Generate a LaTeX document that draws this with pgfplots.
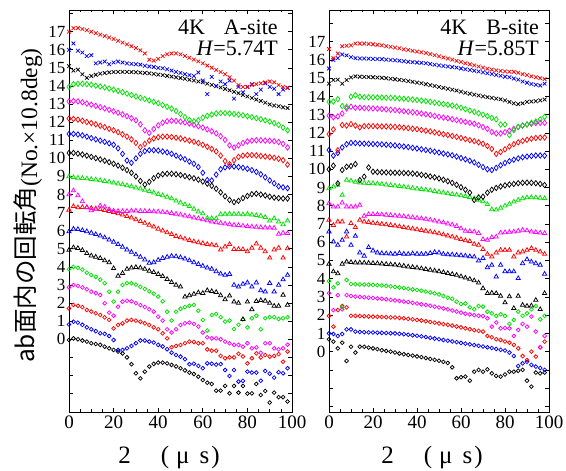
\documentclass[border=0pt]{standalone}
\usepackage{fontspec}
\setmainfont{Liberation Serif}
\newfontfamily\cjk{Noto Sans CJK JP}
\usepackage{pgfplots}
\pgfplotsset{compat=1.18}
\definecolor{mgreen}{RGB}{0,225,0}
\definecolor{mred}{RGB}{255,0,0}
\definecolor{mblue}{RGB}{0,0,255}
\definecolor{mmag}{RGB}{255,0,255}
\pgfplotsset{
 panel/.style={scale only axis, width=223bp, height=402bp, xmin=0, xmax=100,
  xtick={0,20,...,100}, minor x tick num=3,
  ytick={-3,...,18}, yticklabels={,,,0,1,2,3,4,5,6,7,8,9,10,11,12,13,14,15,16,17,},
  clip=false, axis line style={line width=0.8bp},
  every tick/.style={line width=0.7bp,black}, major tick length=4bp, minor tick length=2.5bp,
  /pgf/number format/assume math mode=true,
  yticklabel style={font=\fontsize{17bp}{18bp}\selectfont},
  xticklabel style={font=\fontsize{19bp}{20bp}\selectfont}},
 sc/.style={only marks, mark=o, mark size=1.9bp, color=#1, mark options={solid, line width=0.75bp}},
 st/.style={only marks, mark=triangle, mark size=2.5bp, color=#1, mark options={solid, line width=0.75bp}},
 sd/.style={only marks, mark=diamond, mark size=2.7bp, color=#1, mark options={solid, line width=0.75bp}},
 sx/.style={only marks, mark=x, mark size=2.6bp, color=#1, mark options={solid, line width=0.75bp}},
}
\begin{document}
\begin{tikzpicture}
\path[use as bounding box] (0,0) rectangle (566bp,471bp);
% ---------------- left panel ----------------
\begin{axis}[panel, at={(69bp,59bp)}, anchor=south west, ymin=-4.02, ymax=18.2]
\addplot[sc=black] coordinates {(0,-0.04)(2,0.05)(4,0.00)(6,-0.07)(8,-0.13)(10,-0.22)(12,-0.26)(14,-0.31)(16,-0.41)(18,-0.50)(20,-0.59)(22,-0.68)(24,-0.78)(26,-1.00)(28,-1.38)(30,-1.88)(32,-2.16)(34,-1.79)(36,-1.51)(38,-1.36)(40,-1.29)(42,-1.29)(44,-1.33)(46,-1.42)(48,-1.50)(50,-1.60)(52,-1.72)(54,-1.84)(56,-1.92)(58,-2.07)(60,-2.25)(62,-2.40)(64,-2.47)(66,-2.84)(68,-2.84)(70,-2.58)(72,-2.99)(74,-2.58)(76,-2.95)(78,-2.58)(80,-3.00)(82,-2.99)(84,-2.47)(86,-3.08)(88,-2.86)(90,-3.50)(92,-2.95)(94,-3.20)(96,-3.20)(98,-3.44)};
\addplot[sc=mblue] coordinates {(0,0.82)(2,0.97)(4,0.92)(6,0.80)(8,0.66)(10,0.55)(12,0.45)(14,0.33)(16,0.30)(18,0.18)(20,-0.04)(22,-0.59)(24,-0.59)(26,-0.50)(28,-0.37)(30,-0.22)(32,-0.07)(34,-0.07)(36,-0.13)(38,-0.18)(40,-0.31)(42,-0.40)(44,-0.55)(46,-0.74)(48,-0.87)(50,-0.96)(52,-1.10)(54,-1.38)(56,-1.35)(58,-1.47)(60,-1.60)(62,-1.33)(64,-1.35)(66,-1.40)(68,-1.37)(70,-1.70)(72,-2.03)(74,-1.70)(76,-2.34)(78,-2.30)(80,-1.79)(82,-1.84)(84,-1.84)(86,-2.29)(88,-1.75)(90,-1.90)(92,-2.12)(94,-1.82)(96,-1.88)(98,-1.60)};
\addplot[sc=mred] coordinates {(0,1.71)(2,1.90)(4,1.85)(6,1.78)(8,1.62)(10,1.53)(12,1.44)(14,1.34)(16,1.21)(18,1.07)(20,0.60)(22,0.79)(24,0.88)(26,1.03)(28,1.07)(30,1.03)(32,0.97)(34,0.88)(36,0.79)(38,0.66)(40,0.55)(42,0.33)(44,0.05)(46,-0.44)(48,-0.37)(50,-0.32)(52,-0.22)(54,-0.13)(56,-0.15)(58,-0.22)(60,-0.22)(62,-0.56)(64,-0.63)(66,-0.63)(68,-0.92)(70,-1.05)(72,-1.00)(74,-1.00)(76,-0.80)(78,-0.95)(80,-1.33)(82,-1.05)(84,-0.78)(86,-1.00)(88,-0.87)(90,-0.96)(92,-0.92)(94,-0.82)(96,-1.24)(98,-0.68)};
\addplot[sc=mmag] coordinates {(0,2.87)(2,3.00)(4,2.95)(6,2.87)(8,2.76)(10,2.63)(12,2.55)(14,2.45)(16,1.99)(18,1.47)(20,1.30)(22,1.80)(24,2.08)(26,2.13)(28,2.10)(30,2.00)(32,1.89)(34,1.78)(36,1.66)(38,1.53)(40,1.25)(42,1.03)(44,0.55)(46,0.37)(48,0.55)(50,0.79)(52,0.88)(54,0.92)(56,0.85)(58,0.70)(60,0.37)(62,0.11)(64,0.05)(66,0.05)(68,0.00)(70,-0.13)(72,-0.22)(74,-0.31)(76,-0.31)(78,-0.41)(80,-0.22)(82,-0.50)(84,-0.45)(86,-0.75)(88,-0.22)(90,-0.22)(92,-0.50)(94,-0.56)(96,-0.50)(98,-0.30)};
\addplot[sc=mgreen] coordinates {(0,3.87)(2,4.00)(4,3.95)(6,3.85)(8,3.68)(10,3.55)(12,3.45)(14,3.30)(16,3.10)(18,2.63)(20,2.08)(22,2.63)(24,3.00)(26,3.10)(28,3.10)(30,3.02)(32,2.90)(34,2.78)(36,2.65)(38,2.52)(40,2.36)(42,2.10)(44,1.52)(46,1.03)(48,1.52)(50,1.68)(52,1.78)(54,1.85)(56,1.90)(58,1.58)(60,1.07)(62,0.48)(64,1.34)(66,1.40)(68,1.22)(70,0.98)(72,1.03)(74,0.57)(76,0.80)(78,1.10)(80,0.66)(82,1.16)(84,1.30)(86,0.55)(88,1.16)(90,1.22)(92,1.22)(94,1.12)(96,1.16)(98,1.22)};
\addplot[st=black] coordinates {(0,4.93)(2,5.07)(4,5.03)(6,4.92)(8,4.75)(10,4.62)(12,4.55)(14,4.48)(16,4.35)(18,4.25)(20,3.92)(22,3.50)(24,3.65)(26,3.88)(28,3.95)(30,3.98)(32,3.95)(34,3.88)(36,3.78)(38,3.70)(40,3.60)(42,3.48)(44,3.32)(46,3.15)(48,3.00)(50,2.90)(52,2.35)(54,2.42)(56,2.50)(58,2.58)(60,2.55)(62,2.70)(64,2.65)(66,2.60)(68,2.42)(70,2.20)(72,2.40)(74,2.07)(76,2.00)(78,1.10)(80,2.07)(82,1.65)(84,2.10)(86,2.15)(88,2.12)(90,2.00)(92,1.84)(94,1.84)(96,2.45)(98,1.90)};
\addplot[st=mblue] coordinates {(0,5.95)(2,6.10)(4,6.08)(6,6.02)(8,5.96)(10,5.88)(12,5.80)(14,5.72)(16,5.62)(18,5.50)(20,5.38)(22,5.25)(24,5.10)(26,4.95)(28,4.82)(30,4.68)(32,4.55)(34,4.40)(36,4.22)(38,4.25)(40,4.38)(42,4.48)(44,4.55)(46,4.60)(48,4.58)(50,4.52)(52,4.45)(54,4.35)(56,4.25)(58,4.15)(60,4.05)(62,3.95)(64,3.88)(66,3.75)(68,3.62)(70,3.55)(72,3.60)(74,3.00)(76,2.90)(78,3.05)(80,3.13)(82,2.90)(84,3.13)(86,2.70)(88,2.63)(90,3.10)(92,2.63)(94,3.00)(96,3.30)(98,3.55)};
\addplot[st=mred] coordinates {(0,7.15)(2,7.35)(4,7.28)(6,7.30)(8,7.28)(10,7.25)(12,7.22)(14,7.18)(16,7.13)(18,7.08)(20,7.02)(22,6.95)(24,6.88)(26,6.80)(28,6.72)(30,6.62)(32,6.52)(34,6.42)(36,6.32)(38,6.22)(40,6.10)(42,6.00)(44,5.90)(46,5.80)(48,5.70)(50,5.62)(52,5.55)(54,5.47)(56,5.40)(58,5.35)(60,5.30)(62,5.25)(64,5.22)(66,5.18)(68,4.95)(70,5.12)(72,5.25)(74,4.98)(76,4.98)(78,4.97)(80,4.85)(82,5.05)(84,5.28)(86,5.05)(88,4.85)(90,4.50)(92,4.95)(94,5.05)(96,4.50)(98,5.02)};
\addplot[st=mmag] coordinates {(0,8.00)(2,8.22)(4,7.95)(6,7.62)(8,7.30)(10,7.12)(12,7.20)(14,7.38)(16,7.32)(18,7.18)(20,7.10)(22,7.08)(24,7.08)(26,7.08)(28,7.10)(30,7.10)(32,7.08)(34,7.08)(36,7.07)(38,7.06)(40,7.05)(42,7.03)(44,7.00)(46,6.97)(48,6.93)(50,6.88)(52,6.83)(54,6.78)(56,6.72)(58,6.68)(60,6.62)(62,6.56)(64,6.50)(66,6.46)(68,6.42)(70,6.38)(72,6.35)(74,6.32)(76,6.30)(78,6.27)(80,6.24)(82,6.22)(84,6.20)(86,6.18)(88,6.17)(90,6.16)(92,6.15)(94,5.82)(96,5.88)(98,5.86)};
\addplot[st=mgreen] coordinates {(0,9.00)(2,8.95)(4,8.92)(6,8.90)(8,8.88)(10,8.85)(12,8.82)(14,8.78)(16,8.74)(18,8.70)(20,8.65)(22,8.60)(24,8.55)(26,8.50)(28,8.45)(30,8.38)(32,8.32)(34,8.25)(36,8.18)(38,8.10)(40,8.02)(42,7.95)(44,7.87)(46,7.78)(48,7.65)(50,7.55)(52,7.45)(54,7.35)(56,7.20)(58,7.05)(60,6.95)(62,6.70)(64,6.68)(66,6.68)(68,6.90)(70,6.92)(72,6.93)(74,6.92)(76,6.92)(78,6.90)(80,6.92)(82,6.88)(84,6.85)(86,6.82)(88,6.75)(90,6.55)(92,6.68)(94,6.50)(96,6.35)(98,6.55)};
\addplot[sd=black] coordinates {(0,10.30)(2,10.30)(4,10.26)(6,10.21)(8,10.15)(10,10.08)(12,10.01)(14,9.94)(16,9.87)(18,9.79)(20,9.70)(22,9.60)(24,9.48)(26,9.35)(28,9.20)(30,9.00)(32,8.75)(34,8.55)(36,8.70)(38,8.90)(40,9.05)(42,9.12)(44,9.15)(46,9.15)(48,9.12)(50,9.08)(52,9.02)(54,8.96)(56,8.90)(58,8.82)(60,8.72)(62,8.60)(64,8.48)(66,8.32)(68,8.12)(70,7.90)(72,7.70)(74,7.58)(76,7.65)(78,7.80)(80,7.92)(82,8.02)(84,8.05)(86,8.00)(88,7.95)(90,7.88)(92,7.83)(94,7.80)(96,7.78)(98,7.78)};
\addplot[sd=mblue] coordinates {(0,11.35)(2,11.35)(4,11.32)(6,11.27)(8,11.20)(10,11.12)(12,11.05)(14,10.98)(16,10.91)(18,10.83)(20,10.75)(22,10.55)(24,10.25)(26,9.88)(28,9.75)(30,10.00)(32,10.25)(34,10.40)(36,10.45)(38,10.45)(40,10.43)(42,10.38)(44,10.33)(46,10.25)(48,10.15)(50,10.05)(52,9.95)(54,9.82)(56,9.70)(58,9.52)(60,9.20)(62,8.80)(64,8.78)(66,9.10)(68,9.40)(70,9.50)(72,9.55)(74,9.55)(76,9.52)(78,9.48)(80,9.42)(82,9.35)(84,9.25)(86,9.12)(88,8.95)(90,8.78)(92,8.62)(94,8.45)(96,8.40)(98,8.35)};
\addplot[sd=mred] coordinates {(0,12.20)(2,12.18)(4,12.14)(6,12.08)(8,12.01)(10,11.95)(12,11.88)(14,11.80)(16,11.72)(18,11.63)(20,11.55)(22,11.45)(24,11.33)(26,11.20)(28,11.05)(30,10.85)(32,10.62)(34,10.80)(36,10.98)(38,11.10)(40,11.17)(42,11.20)(44,11.20)(46,11.18)(48,11.14)(50,11.10)(52,11.04)(54,10.98)(56,10.92)(58,10.85)(60,10.75)(62,10.64)(64,10.52)(66,10.38)(68,10.15)(70,9.85)(72,9.68)(74,9.90)(76,10.08)(78,10.15)(80,10.18)(82,10.18)(84,10.16)(86,10.13)(88,10.10)(90,10.07)(92,10.03)(94,9.98)(96,9.90)(98,9.65)};
\addplot[sd=mmag] coordinates {(0,13.15)(2,13.17)(4,13.15)(6,13.10)(8,13.03)(10,12.97)(12,12.90)(14,12.83)(16,12.76)(18,12.68)(20,12.60)(22,12.52)(24,12.43)(26,12.33)(28,12.22)(30,12.10)(32,11.88)(34,11.55)(36,11.40)(38,11.62)(40,11.82)(42,11.97)(44,12.05)(46,12.08)(48,12.07)(50,12.03)(52,11.98)(54,11.92)(56,11.85)(58,11.78)(60,11.70)(62,11.60)(64,11.50)(66,11.38)(68,11.22)(70,11.02)(72,10.72)(74,10.60)(76,10.72)(78,10.85)(80,10.93)(82,10.98)(84,11.00)(86,11.00)(88,10.98)(90,10.97)(92,10.95)(94,10.90)(96,10.80)(98,10.60)};
\addplot[sd=mgreen] coordinates {(0,13.95)(2,14.10)(4,14.12)(6,14.12)(8,14.10)(10,14.07)(12,14.02)(14,13.97)(16,13.92)(18,13.86)(20,13.80)(22,13.73)(24,13.66)(26,13.58)(28,13.50)(30,13.42)(32,13.35)(34,13.28)(36,13.20)(38,13.12)(40,13.05)(42,12.95)(44,12.85)(46,12.75)(48,12.62)(50,12.45)(52,12.28)(54,12.12)(56,12.05)(58,12.10)(60,12.25)(62,12.35)(64,12.42)(66,12.48)(68,12.50)(70,12.50)(72,12.48)(74,12.45)(76,12.42)(78,12.38)(80,12.33)(82,12.28)(84,12.22)(86,12.16)(88,12.10)(90,12.03)(92,11.95)(94,11.85)(96,11.70)(98,11.55)};
\addplot[sx=black] coordinates {(0,15.10)(2,14.85)(4,14.90)(6,14.65)(8,14.45)(10,14.55)(12,14.62)(14,14.68)(16,14.72)(18,14.75)(20,14.77)(22,14.78)(24,14.78)(26,14.78)(28,14.77)(30,14.76)(32,14.74)(34,14.72)(36,14.70)(38,14.67)(40,14.63)(42,14.60)(44,14.56)(46,14.52)(48,14.48)(50,14.44)(52,14.40)(54,14.35)(56,14.30)(58,14.25)(60,14.20)(62,14.13)(64,14.06)(66,13.99)(68,13.92)(70,13.84)(72,13.76)(74,13.68)(76,13.60)(78,13.50)(80,13.42)(82,13.34)(84,13.25)(86,13.17)(88,13.08)(90,12.98)(92,12.92)(94,12.88)(96,12.82)(98,12.78)};
\addplot[sx=mblue] coordinates {(0,16.00)(2,16.35)(4,15.95)(6,15.85)(8,15.65)(10,15.70)(12,15.25)(14,15.30)(16,15.35)(18,15.20)(20,15.30)(22,15.35)(24,15.30)(26,15.25)(28,15.22)(30,15.20)(32,15.18)(34,15.12)(36,15.08)(38,15.05)(40,15.00)(42,14.98)(44,14.92)(46,14.85)(48,14.78)(50,14.72)(52,14.65)(54,14.60)(56,14.55)(58,14.75)(60,14.30)(62,13.55)(64,14.50)(66,14.00)(68,14.25)(70,14.10)(72,14.30)(74,13.30)(76,13.95)(78,13.65)(80,13.95)(82,14.10)(84,13.55)(86,13.80)(88,14.15)(90,13.95)(92,13.85)(94,13.55)(96,13.80)(98,13.90)};
\addplot[sx=mred] coordinates {(0,17.00)(2,17.20)(4,17.20)(6,17.15)(8,17.08)(10,17.00)(12,16.92)(14,16.84)(16,16.76)(18,16.68)(20,16.60)(22,16.50)(24,16.40)(26,16.30)(28,16.20)(30,16.10)(32,15.97)(34,15.80)(36,15.45)(38,15.40)(40,15.50)(42,15.65)(44,15.75)(46,15.80)(48,15.80)(50,15.75)(52,15.66)(54,15.56)(56,15.46)(58,15.36)(60,15.25)(62,15.13)(64,15.01)(66,14.89)(68,14.77)(70,14.65)(72,14.48)(74,14.30)(76,14.05)(78,13.95)(80,13.95)(82,14.05)(84,14.10)(86,14.15)(88,14.20)(90,14.25)(92,14.20)(94,14.05)(96,13.95)(98,13.90)};
\node[anchor=base east, inner sep=0pt, font=\fontsize{22bp}{23bp}\selectfont] at (rel axis cs:0.937,0.938) {4K\hspace{19bp}A-site};
\node[anchor=base east, inner sep=0pt, font=\fontsize{22bp}{23bp}\selectfont] at (rel axis cs:0.937,0.888) {\textit{H}=5.74T};
\end{axis}
% ---------------- right panel ----------------
\begin{axis}[panel, at={(329bp,59bp)}, anchor=south west, width=220bp, ymin=-3.31, ymax=18.74]
\addplot[sc=black] coordinates {(0,0.68)(2,0.55)(4,0.18)(6,0.49)(8,-0.51)(10,0.27)(12,-0.05)(14,0.27)(16,0.27)(18,0.22)(20,0.18)(22,0.14)(24,0.08)(26,0.04)(28,0.00)(30,-0.05)(32,-0.10)(34,-0.14)(36,-0.18)(38,-0.22)(40,-0.26)(42,-0.30)(44,-0.35)(46,-0.40)(48,-0.45)(50,-0.50)(52,-0.56)(54,-0.62)(56,-0.86)(58,-1.46)(60,-1.40)(62,-1.37)(64,-1.59)(66,-1.10)(68,-1.00)(70,-1.10)(72,-0.97)(74,-1.19)(76,-1.33)(78,-1.37)(80,-1.25)(82,-1.10)(84,-1.10)(86,-1.05)(88,-1.00)(90,-1.59)(92,-1.92)(94,-1.15)(96,-1.19)(98,-1.15)};
\addplot[sc=mblue] coordinates {(0,1.00)(2,0.97)(4,0.86)(6,0.97)(8,1.22)(10,1.22)(12,1.10)(14,1.08)(16,1.07)(18,1.06)(20,1.05)(22,1.04)(24,1.03)(26,1.02)(28,1.01)(30,1.00)(32,0.98)(34,0.96)(36,0.93)(38,0.90)(40,0.87)(42,0.84)(44,0.80)(46,0.76)(48,0.72)(50,0.68)(52,0.64)(54,0.60)(56,0.56)(58,0.52)(60,0.48)(62,0.44)(64,0.40)(66,0.36)(68,0.32)(70,0.28)(72,0.24)(74,0.20)(76,0.15)(78,0.10)(80,0.06)(82,-0.05)(84,-0.24)(86,-0.79)(88,-0.64)(90,-0.55)(92,-0.73)(94,-0.82)(96,-0.90)(98,-1.00)};
\addplot[sc=mred] coordinates {(0,1.96)(2,1.37)(4,2.28)(6,2.50)(8,2.43)(10,1.97)(12,1.96)(14,1.95)(16,1.94)(18,1.93)(20,1.92)(22,1.91)(24,1.90)(26,1.89)(28,1.88)(30,1.87)(32,1.85)(34,1.83)(36,1.80)(38,1.77)(40,1.74)(42,1.71)(44,1.67)(46,1.63)(48,1.59)(50,1.55)(52,1.51)(54,1.47)(56,1.43)(58,1.38)(60,1.33)(62,1.28)(64,1.23)(66,1.18)(68,1.14)(70,1.10)(72,0.86)(74,0.79)(76,0.68)(78,0.64)(80,0.56)(82,0.49)(84,0.37)(86,0.18)(88,-0.24)(90,-0.46)(92,0.00)(94,-0.27)(96,0.24)(98,0.55)};
\addplot[sc=mmag] coordinates {(0,3.20)(2,2.28)(4,3.10)(6,2.32)(8,3.10)(10,3.05)(12,3.02)(14,3.00)(16,2.98)(18,2.96)(20,2.94)(22,2.92)(24,2.90)(26,2.87)(28,2.84)(30,2.81)(32,2.78)(34,2.75)(36,2.72)(38,2.68)(40,2.64)(42,2.60)(44,2.56)(46,2.52)(48,2.47)(50,2.42)(52,2.37)(54,2.32)(56,2.26)(58,2.20)(60,2.14)(62,2.08)(64,2.04)(66,2.00)(68,1.97)(70,1.95)(72,1.83)(74,1.37)(76,1.60)(78,1.28)(80,1.30)(82,1.28)(84,0.86)(86,1.19)(88,1.52)(90,1.37)(92,1.92)(94,1.10)(96,0.24)(98,0.86)};
\addplot[sc=mgreen] coordinates {(0,3.87)(2,3.53)(4,3.75)(6,2.43)(8,3.93)(10,3.71)(12,3.70)(14,3.69)(16,3.68)(18,3.67)(20,3.66)(22,3.65)(24,3.63)(26,3.61)(28,3.58)(30,3.55)(32,3.52)(34,3.49)(36,3.45)(38,3.41)(40,3.38)(42,3.34)(44,3.30)(46,3.25)(48,3.20)(50,3.14)(52,3.05)(54,2.96)(56,2.90)(58,2.74)(60,2.61)(62,2.64)(64,2.43)(66,2.32)(68,2.50)(70,2.47)(72,2.19)(74,2.10)(76,1.96)(78,2.05)(80,1.96)(82,1.52)(84,1.74)(86,2.20)(88,1.96)(90,2.10)(92,2.32)(94,2.50)(96,1.77)(98,1.96)};
\addplot[st=black] coordinates {(0,4.81)(2,4.39)(4,4.29)(6,4.81)(8,4.93)(10,4.90)(12,4.88)(14,4.88)(16,4.87)(18,4.86)(20,4.85)(22,4.84)(24,4.82)(26,4.80)(28,4.78)(30,4.76)(32,4.73)(34,4.70)(36,4.66)(38,4.63)(40,4.60)(42,4.56)(44,4.52)(46,4.48)(48,4.44)(50,4.40)(52,4.35)(54,4.30)(56,4.25)(58,4.20)(60,4.12)(62,4.05)(64,3.98)(66,3.90)(68,3.78)(70,3.47)(72,3.20)(74,3.22)(76,3.20)(78,3.05)(80,2.69)(82,3.02)(84,2.38)(86,3.05)(88,2.56)(90,2.50)(92,2.52)(94,2.83)(96,2.32)(98,3.20)};
\addplot[st=mblue] coordinates {(0,6.58)(2,6.03)(4,5.85)(6,6.12)(8,6.58)(10,5.85)(12,6.34)(14,5.43)(16,5.25)(18,5.72)(20,5.54)(22,5.43)(24,5.39)(26,5.38)(28,5.37)(30,5.36)(32,5.40)(34,5.36)(36,5.35)(38,5.38)(40,5.36)(42,5.35)(44,5.36)(46,5.40)(48,5.45)(50,5.43)(52,5.35)(54,5.33)(56,5.32)(58,5.30)(60,5.28)(62,5.26)(64,5.22)(66,5.20)(68,4.99)(70,5.12)(72,4.62)(74,4.75)(76,4.11)(78,4.75)(80,4.40)(82,4.39)(84,4.39)(86,4.02)(88,4.84)(90,5.06)(92,4.93)(94,4.84)(96,4.75)(98,4.26)};
\addplot[st=mred] coordinates {(0,7.22)(2,6.94)(4,7.13)(6,7.13)(8,6.30)(10,7.04)(12,6.82)(14,7.22)(16,7.13)(18,7.10)(20,7.06)(22,7.03)(24,7.00)(26,6.97)(28,6.94)(30,6.90)(32,6.86)(34,6.82)(36,6.78)(38,6.74)(40,6.70)(42,6.66)(44,6.62)(46,6.58)(48,6.53)(50,6.48)(52,6.42)(54,6.36)(56,6.30)(58,6.24)(60,6.16)(62,6.10)(64,6.05)(66,5.90)(68,5.85)(70,5.61)(72,5.35)(74,5.21)(76,5.43)(78,5.57)(80,5.57)(82,5.57)(84,5.21)(86,5.43)(88,5.48)(90,5.57)(92,5.67)(94,5.57)(96,5.48)(98,5.35)};
\addplot[st=mmag] coordinates {(0,8.13)(2,7.95)(4,7.95)(6,8.17)(8,7.95)(10,7.95)(12,7.95)(14,8.04)(16,7.44)(18,7.53)(20,7.53)(22,7.53)(24,7.52)(26,7.50)(28,7.48)(30,7.46)(32,7.44)(34,7.42)(36,7.39)(38,7.36)(40,7.33)(42,7.30)(44,7.27)(46,7.23)(48,7.18)(50,7.13)(52,7.08)(54,7.02)(56,6.96)(58,6.88)(60,6.75)(62,6.62)(64,6.60)(66,6.58)(68,6.50)(70,6.16)(72,6.12)(74,6.27)(76,6.30)(78,6.52)(80,6.54)(82,6.56)(84,6.58)(86,6.62)(88,6.67)(90,6.64)(92,6.58)(94,6.55)(96,6.52)(98,6.49)};
\addplot[st=mgreen] coordinates {(0,8.95)(2,9.05)(4,9.14)(6,8.59)(8,9.41)(10,9.37)(12,9.30)(14,9.27)(16,9.25)(18,9.24)(20,9.23)(22,9.21)(24,9.19)(26,9.16)(28,9.13)(30,9.10)(32,9.07)(34,9.04)(36,9.00)(38,8.97)(40,8.94)(42,8.91)(44,8.88)(46,8.84)(48,8.80)(50,8.76)(52,8.72)(54,8.68)(56,8.64)(58,8.60)(60,8.56)(62,8.52)(64,8.47)(66,8.40)(68,8.32)(70,8.24)(72,8.08)(74,7.80)(76,7.78)(78,7.88)(80,8.00)(82,8.10)(84,8.22)(86,8.32)(88,8.40)(90,8.45)(92,8.46)(94,8.45)(96,8.43)(98,8.41)};
\addplot[sd=black] coordinates {(0,10.00)(2,10.20)(4,9.23)(6,9.96)(8,10.14)(10,10.18)(12,10.29)(14,9.41)(16,9.60)(18,10.10)(20,9.87)(22,9.85)(24,9.84)(26,9.83)(28,9.82)(30,9.81)(32,9.81)(34,9.80)(36,9.79)(38,9.77)(40,9.74)(42,9.70)(44,9.66)(46,9.61)(48,9.56)(50,9.50)(52,9.43)(54,9.35)(56,9.26)(58,9.15)(60,9.02)(62,8.88)(64,8.72)(66,8.32)(68,8.46)(70,8.50)(72,8.72)(74,8.88)(76,8.98)(78,9.06)(80,9.12)(82,9.17)(84,9.20)(86,9.24)(88,9.26)(90,9.27)(92,9.26)(94,9.24)(96,9.20)(98,9.14)};
\addplot[sd=mblue] coordinates {(0,11.06)(2,10.75)(4,10.90)(6,11.20)(8,11.38)(10,11.45)(12,11.44)(14,11.42)(16,11.41)(18,11.40)(20,11.39)(22,11.38)(24,11.37)(26,11.35)(28,11.33)(30,11.31)(32,11.28)(34,11.25)(36,11.22)(38,11.18)(40,11.14)(42,11.10)(44,11.06)(46,11.02)(48,10.97)(50,10.92)(52,10.87)(54,10.82)(56,10.77)(58,10.70)(60,10.62)(62,10.55)(64,10.47)(66,10.38)(68,10.25)(70,10.12)(72,10.00)(74,9.96)(76,10.08)(78,10.22)(80,10.35)(82,10.45)(84,10.53)(86,10.60)(88,10.66)(90,10.70)(92,10.73)(94,10.76)(96,10.76)(98,10.75)};
\addplot[sd=mred] coordinates {(0,11.93)(2,12.19)(4,11.05)(6,12.43)(8,12.40)(10,12.48)(12,12.40)(14,12.30)(16,12.37)(18,12.37)(20,12.37)(22,12.36)(24,12.35)(26,12.35)(28,12.34)(30,12.33)(32,12.31)(34,12.29)(36,12.26)(38,12.23)(40,12.20)(42,12.16)(44,12.12)(46,12.08)(48,12.03)(50,11.98)(52,11.93)(54,11.88)(56,11.83)(58,11.78)(60,11.72)(62,11.66)(64,11.60)(66,11.55)(68,11.48)(70,11.40)(72,11.28)(74,11.12)(76,10.85)(78,10.95)(80,11.10)(82,11.25)(84,11.38)(86,11.48)(88,11.56)(90,11.62)(92,11.68)(94,11.72)(96,11.74)(98,11.75)};
\addplot[sd=mmag] coordinates {(0,12.94)(2,12.85)(4,12.90)(6,13.06)(8,13.34)(10,13.43)(12,13.38)(14,13.38)(16,13.36)(18,13.35)(20,13.34)(22,13.33)(24,13.31)(26,13.29)(28,13.27)(30,13.25)(32,13.22)(34,13.19)(36,13.16)(38,13.13)(40,13.10)(42,13.06)(44,13.02)(46,12.98)(48,12.93)(50,12.88)(52,12.84)(54,12.80)(56,12.75)(58,12.70)(60,12.65)(62,12.60)(64,12.55)(66,12.50)(68,12.42)(70,12.32)(72,12.22)(74,12.05)(76,11.97)(78,11.97)(80,12.04)(82,12.12)(84,12.22)(86,12.32)(88,12.40)(90,12.46)(92,12.50)(94,12.54)(96,12.55)(98,12.55)};
\addplot[sd=mgreen] coordinates {(0,13.70)(2,13.72)(4,13.85)(6,13.47)(8,13.43)(10,13.98)(12,14.07)(14,13.98)(16,13.96)(18,13.95)(20,13.95)(22,13.94)(24,13.94)(26,13.93)(28,13.92)(30,13.91)(32,13.89)(34,13.87)(36,13.85)(38,13.83)(40,13.80)(42,13.77)(44,13.74)(46,13.70)(48,13.66)(50,13.62)(52,13.58)(54,13.54)(56,13.50)(58,13.45)(60,13.38)(62,13.30)(64,13.22)(66,13.15)(68,13.08)(70,13.00)(72,12.92)(74,12.82)(76,12.74)(78,12.46)(80,12.46)(82,11.88)(84,12.15)(86,12.33)(88,12.40)(90,12.46)(92,12.55)(94,12.62)(96,12.74)(98,12.88)};
\addplot[sx=black] coordinates {(0,14.70)(2,14.90)(4,14.92)(6,14.70)(8,14.90)(10,15.04)(12,15.10)(14,15.08)(16,15.07)(18,15.06)(20,15.05)(22,15.04)(24,15.02)(26,15.00)(28,14.97)(30,14.94)(32,14.91)(34,14.88)(36,14.84)(38,14.80)(40,14.76)(42,14.72)(44,14.67)(46,14.62)(48,14.57)(50,14.52)(52,14.47)(54,14.42)(56,14.37)(58,14.32)(60,14.26)(62,14.20)(64,14.15)(66,14.10)(68,14.05)(70,14.00)(72,13.96)(74,13.92)(76,13.88)(78,13.84)(80,13.78)(82,13.70)(84,13.62)(86,13.58)(88,13.62)(90,13.70)(92,13.72)(94,13.74)(96,13.78)(98,13.83)};
\addplot[sx=mblue] coordinates {(0,15.53)(2,16.00)(4,16.10)(6,16.30)(8,16.25)(10,16.15)(12,16.10)(14,16.08)(16,16.08)(18,16.07)(20,16.06)(22,16.05)(24,16.04)(26,16.02)(28,16.00)(30,15.98)(32,15.96)(34,15.93)(36,15.90)(38,15.88)(40,15.86)(42,15.84)(44,15.82)(46,15.78)(48,15.74)(50,15.70)(52,15.67)(54,15.64)(56,15.61)(58,15.58)(60,15.53)(62,15.49)(64,15.45)(66,15.41)(68,15.37)(70,15.32)(72,15.27)(74,15.23)(76,15.18)(78,15.13)(80,15.08)(82,15.05)(84,14.98)(86,14.92)(88,14.82)(90,14.75)(92,14.68)(94,14.64)(96,14.60)(98,14.70)};
\addplot[sx=mred] coordinates {(0,16.60)(2,16.10)(4,16.35)(6,16.75)(8,16.78)(10,16.80)(12,16.90)(14,16.90)(16,16.90)(18,16.88)(20,16.86)(22,16.83)(24,16.80)(26,16.76)(28,16.72)(30,16.68)(32,16.64)(34,16.58)(36,16.55)(38,16.50)(40,16.46)(42,16.42)(44,16.38)(46,16.32)(48,16.26)(50,16.20)(52,16.14)(54,16.08)(56,16.02)(58,15.95)(60,15.89)(62,15.82)(64,15.76)(66,15.70)(68,15.64)(70,15.58)(72,15.52)(74,15.47)(76,15.43)(78,15.40)(80,15.37)(82,15.35)(84,15.35)(86,15.30)(88,15.22)(90,15.17)(92,15.10)(94,15.05)(96,15.00)(98,14.95)};
\node[anchor=base east, inner sep=0pt, font=\fontsize{22bp}{23bp}\selectfont] at (rel axis cs:0.955,0.938) {4K\hspace{19bp}B-site};
\node[anchor=base east, inner sep=0pt, font=\fontsize{22bp}{23bp}\selectfont] at (rel axis cs:0.955,0.888) {\textit{H}=5.85T};
\end{axis}
% ---------------- labels ----------------
\node[rotate=90, anchor=base west, inner sep=0pt, font=\fontsize{24.5bp}{25bp}\selectfont\cjk] at (34bp,108bp) {ab面内の回転角};
\node[rotate=90, anchor=base east, inner sep=0pt, font=\fontsize{23.5bp}{24bp}\selectfont] at (37bp,423bp) {(No.×10.8deg)};
\node[anchor=base, inner sep=0pt, font=\fontsize{25bp}{27bp}\selectfont] at (169bp,8bp) {2\hspace{30bp}(\hspace{7bp}μ\hspace{10bp}s\hspace{2bp})};
\node[anchor=base, inner sep=0pt, font=\fontsize{25bp}{27bp}\selectfont] at (432bp,8bp) {2\hspace{30bp}(\hspace{7bp}μ\hspace{10bp}s\hspace{2bp})};
\end{tikzpicture}
\end{document}
